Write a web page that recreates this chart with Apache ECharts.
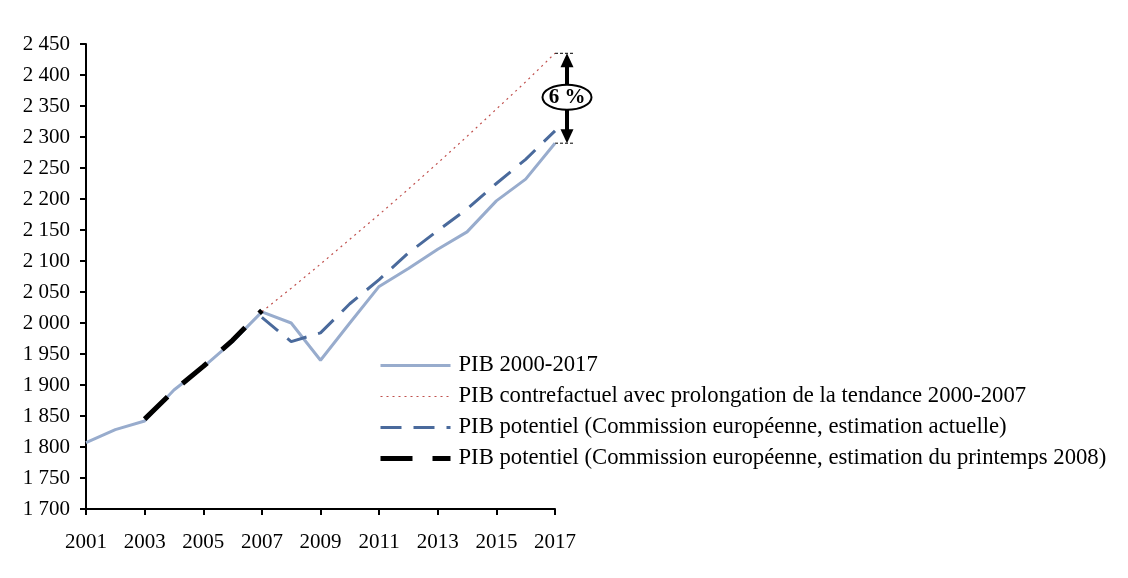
<!DOCTYPE html>
<html><head><meta charset="utf-8">
<script src="https://cdn.jsdelivr.net/npm/echarts@6/dist/echarts.min.js"></script>
<style>html,body{margin:0;padding:0;background:#fff}#c{width:1128px;height:578px}</style>
</head><body><div id="c"></div>
<script>
const years = ['2001','2002','2003','2004','2005','2006','2007','2008','2009','2010','2011','2012','2013','2014','2015','2016','2017'];
const pib = [1807,1828,1842,1892,1929,1970,2018,2000,1940,2000,2059,2088,2119,2147,2197,2232,2290];
const contrefactuel = [null,null,null,null,null,null,2018,2056,2095,2135,2175,2216,2258,2301,2345,2389,2435];
const potentielActuel = [null,null,null,null,null,null,2009,1970,1984,2031,2070,2113,2149,2184,2225,2264,2310];
const potentielPrintemps2008 = [null,null,1845,1891,1930,1972,2020,null,null,null,null,null,null,null,null,null,null];
const seriesNames = [
  'PIB 2000-2017',
  'PIB contrefactuel avec prolongation de la tendance 2000-2007',
  'PIB potentiel (Commission européenne, estimation actuelle)',
  'PIB potentiel (Commission européenne, estimation du printemps 2008)'
];
const yMin = 1700, yMax = 2450, yStep = 50;
const gapLabel = '6 %';

const FONT = 'Liberation Serif';
const chart = echarts.init(document.getElementById('c'), null, {renderer:'canvas'});
const fmt = v => { const s = String(v); return s.length > 3 ? s.slice(0, s.length-3) + ' ' + s.slice(-3) : s; };

chart.setOption({
  animation: false,
  backgroundColor: '#fff',
  textStyle: {fontFamily: FONT, color: '#000'},
  grid: {left: 86, right: 573, top: 44, bottom: 69},
  legend: {
    orient: 'vertical', left: 373, top: 349,
    itemWidth: 70, itemHeight: 14, itemGap: 8,
    itemStyle: {opacity: 0},
    lineStyle: {width: 'inherit', type: 'inherit', color: 'inherit'},
    textStyle: {fontFamily: FONT, fontSize: 22.7, color: '#000', lineHeight: 21, padding: [0,0,0,3]},
    data: seriesNames
  },
  xAxis: {
    type: 'category', data: years, boundaryGap: false,
    axisLine: {lineStyle: {color: '#000', width: 2}},
    axisTick: {interval: 1, length: 6, lineStyle: {color: '#000', width: 2}},
    axisLabel: {interval: 1, margin: 23, fontFamily: FONT, fontSize: 21, color: '#000'},
    splitLine: {show: false}
  },
  yAxis: {
    type: 'value', min: yMin, max: yMax, interval: yStep,
    axisLine: {show: true, lineStyle: {color: '#000', width: 2}},
    axisTick: {show: true, length: 6, lineStyle: {color: '#000', width: 2}},
    axisLabel: {margin: 16, fontFamily: FONT, fontSize: 21, color: '#000', formatter: fmt},
    splitLine: {show: false}
  },
  series: [
    {name: seriesNames[0], type: 'line', data: pib, symbol: 'none',
     lineStyle: {color: '#98ACCD', width: 3}, itemStyle: {color: '#98ACCD'}},
    {name: seriesNames[1], type: 'line', data: contrefactuel, symbol: 'none',
     lineStyle: {color: '#C0504D', width: 1.2, type: [2, 4]}, itemStyle: {color: '#C0504D'}},
    {name: seriesNames[2], type: 'line', data: potentielActuel, symbol: 'none',
     lineStyle: {color: '#4A6A9C', width: 3, type: [21, 12]}, itemStyle: {color: '#4A6A9C'}},
    {name: seriesNames[3], type: 'line', data: potentielPrintemps2008, symbol: 'none',
     lineStyle: {color: '#000', width: 5, type: [32, 20]}, itemStyle: {color: '#000'}}
  ]
});

const last = years.length - 1;
const pTop = chart.convertToPixel({gridIndex: 0}, [years[last], contrefactuel[last]]);
const pBot = chart.convertToPixel({gridIndex: 0}, [years[last], pib[last]]);
const ax = pTop[0] + 12;
const cy = (pTop[1] + pBot[1]) / 2;
chart.setOption({
  graphic: [
    {type: 'line', shape: {x1: pTop[0], y1: pTop[1], x2: pTop[0] + 19, y2: pTop[1]},
     style: {stroke: '#000', lineWidth: 1, lineDash: [3, 2]}},
    {type: 'line', shape: {x1: pBot[0], y1: pBot[1], x2: pBot[0] + 19, y2: pBot[1]},
     style: {stroke: '#000', lineWidth: 1, lineDash: [3, 2]}},
    {type: 'line', shape: {x1: ax, y1: pTop[1] + 10, x2: ax, y2: pBot[1] - 10},
     style: {stroke: '#000', lineWidth: 4}},
    {type: 'polygon', shape: {points: [[ax, pTop[1]], [ax - 6.5, pTop[1] + 14], [ax + 6.5, pTop[1] + 14]]},
     style: {fill: '#000'}},
    {type: 'polygon', shape: {points: [[ax, pBot[1]], [ax - 6.5, pBot[1] - 14], [ax + 6.5, pBot[1] - 14]]},
     style: {fill: '#000'}},
    {type: 'ellipse', shape: {cx: ax, cy: cy - 1, rx: 24.5, ry: 12.5},
     style: {fill: '#fff', stroke: '#000', lineWidth: 2}, z: 10},
    {type: 'text', x: ax, y: cy - 1, z: 11,
     style: {text: gapLabel, fontFamily: FONT, fontSize: 21, fontWeight: 'bold', fill: '#000', align: 'center', verticalAlign: 'middle'}}
  ]
});
</script></body></html>
